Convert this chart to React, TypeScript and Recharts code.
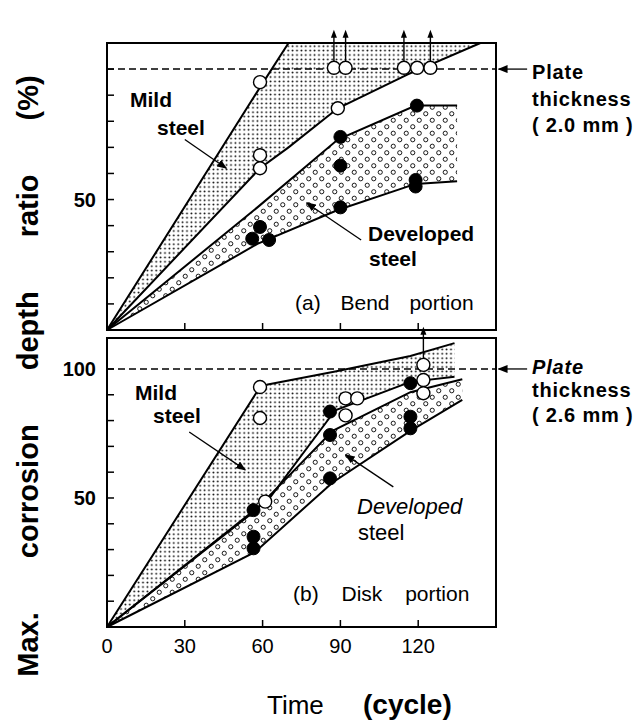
import React from "react";
import {
  ComposedChart,
  Area,
  Line,
  Scatter,
  XAxis,
  YAxis,
  ReferenceLine,
  ReferenceArea,
} from "recharts";

const FONT = "'Liberation Sans', Arial, Helvetica, sans-serif";

// axis ticks
const xTicks = [0, 30, 60, 90, 120];
const yTicks = [0, 10, 20, 30, 40, 50, 60, 70, 80, 90, 100];

// (a) Bend portion - bands (x, lower edge, upper edge)
const bendMildX = [0, 59, 70, 89, 116, 144];
const bendMildLow = [0, 62, 70, 85, 98, 110];
const bendMildHigh = [0, 93, 110, 110, 110, 110];

const bendDevX = [0, 58, 89, 119, 135];
const bendDevLow = [0, 33, 46, 56, 57];
const bendDevHigh = [0, 47, 73, 86, 86];

// (a) measured points
const bendOpenX = [59, 59, 59, 89, 119.6];
const bendOpenY = [95, 67, 62, 85, 100.5];
const bendArrowX = [87.5, 92, 114.5, 124.7];
const bendArrowY = [100.5, 100.5, 100.5, 100.5];
const bendFilledX = [90, 90, 119.5, 90, 119, 119, 56, 59, 62.5];
const bendFilledY = [74, 63, 86, 47, 57.5, 55, 35, 39.5, 34.5];

// (b) Disk portion - bands
const diskMildX = [0, 59, 62, 88, 117, 134];
const diskMildLow = [0, 47, 49, 84, 95, 97];
const diskMildHigh = [0, 93, 94, 99, 105, 110];

const diskDevX = [0, 57, 87, 117, 137];
const diskDevLow = [0, 29, 56, 76, 88];
const diskDevHigh = [0, 45, 76, 91, 96];

// (b) measured points
const diskOpenX = [59, 59, 61, 92, 96.5, 92, 122, 122];
const diskOpenY = [93, 81, 48.6, 88.6, 88.6, 82, 95.7, 90.6];
const diskArrowX = [122];
const diskArrowY = [101.6];
const diskFilledX = [56.5, 56.5, 56.5, 86, 86, 86, 117, 117, 117];
const diskFilledY = [45.3, 35, 30.5, 83.5, 74.4, 57.6, 94.5, 81.5, 77];

const band = (xs: number[], lo: number[], hi: number[]) =>
  xs.map((x, i) => ({ x, r: [lo[i], hi[i]], lo: lo[i], hi: hi[i] }));
const pts = (xs: number[], ys: number[]) => xs.map((x, i) => ({ x, y: ys[i] }));

const openDot = (p: any) => (
  <circle cx={p.cx} cy={p.cy} r={6.5} fill="#fff" stroke="#000" strokeWidth={1.4} />
);
const filledDot = (p: any) => (
  <circle cx={p.cx} cy={p.cy} r={6.5} fill="#000" stroke="#000" strokeWidth={1} />
);
const arrowDot = (p: any) => (
  <g>
    <line x1={p.cx} y1={p.cy - 6} x2={p.cx} y2={p.cy - 34} stroke="#000" strokeWidth={1.4} />
    <path d={`M${p.cx - 3},${p.cy - 30} L${p.cx},${p.cy - 38} L${p.cx + 3},${p.cy - 30} Z`} fill="#000" />
    <circle cx={p.cx} cy={p.cy} r={6.5} fill="#fff" stroke="#000" strokeWidth={1.4} />
  </g>
);

const makeYTick = (labels: number[]) => (props: any) => {
  const { x, y, payload } = props;
  const v = payload.value;
  return (
    <g>
      {v > 0 && <line x1={x + 6} x2={x + 13} y1={y} y2={y} stroke="#000" strokeWidth={1.5} />}
      {labels.includes(v) && (
        <text x={x - 5} y={y} textAnchor="end" dominantBaseline="central" fontFamily={FONT} fontWeight="bold" fontSize={20} fill="#000">
          {v}
        </text>
      )}
    </g>
  );
};

const makeXTick = (showLabels: boolean) => (props: any) => {
  const { x, y, payload } = props;
  const v = payload.value;
  return (
    <g>
      {v > 0 && <line x1={x} x2={x} y1={y - 10} y2={y - 17} stroke="#000" strokeWidth={1.5} />}
      {showLabels && (
        <text x={x} y={y + 9} textAnchor="middle" dominantBaseline="central" fontFamily={FONT} fontSize={20} fill="#000">
          {v}
        </text>
      )}
    </g>
  );
};

function Panel(props: {
  top: number;
  height: number;
  marginTop: number;
  yMax: number;
  yLabels: number[];
  xLabels: boolean;
  mildX: number[]; mildLow: number[]; mildHigh: number[];
  devX: number[]; devLow: number[]; devHigh: number[];
  openX: number[]; openY: number[];
  arrowX: number[]; arrowY: number[];
  filledX: number[]; filledY: number[];
  mildArrow: number[][];
  devArrow: number[][];
}) {
  const mild = band(props.mildX, props.mildLow, props.mildHigh);
  const dev = band(props.devX, props.devLow, props.devHigh);
  return (
    <div style={{ position: "absolute", left: 0, top: props.top }}>
      <ComposedChart
        width={642}
        height={props.height}
        margin={{ top: props.marginTop, right: 146, bottom: 0, left: 67 }}
      >
        <XAxis
          type="number"
          dataKey="x"
          domain={[0, 150]}
          ticks={xTicks}
          interval={0}
          axisLine={false}
          tickLine={false}
          tickSize={0}
          tickMargin={10}
          height={props.xLabels ? 40 : 10}
          tick={makeXTick(props.xLabels)}
        />
        <YAxis
          type="number"
          domain={[0, props.yMax]}
          ticks={yTicks}
          interval={0}
          axisLine={false}
          tickLine={false}
          tickSize={0}
          tickMargin={6}
          width={40}
          tick={makeYTick(props.yLabels)}
        />
        <Area data={mild} dataKey="r" type="linear" stroke="none" fill="url(#stip)" fillOpacity={1} isAnimationActive={false} />
        <Area data={dev} dataKey="r" type="linear" stroke="none" fill="url(#ring)" fillOpacity={1} isAnimationActive={false} />
        <Line data={mild} dataKey="hi" type="linear" stroke="#000" strokeWidth={2} dot={false} isAnimationActive={false} />
        <Line data={mild} dataKey="lo" type="linear" stroke="#000" strokeWidth={2} dot={false} isAnimationActive={false} />
        <Line data={dev} dataKey="hi" type="linear" stroke="#000" strokeWidth={2} dot={false} isAnimationActive={false} />
        <Line data={dev} dataKey="lo" type="linear" stroke="#000" strokeWidth={2} dot={false} isAnimationActive={false} />
        <ReferenceLine y={100} stroke="#000" strokeWidth={1.5} strokeDasharray="7 4" />
        <ReferenceLine
          segment={[{ x: props.mildArrow[0][0], y: props.mildArrow[0][1] }, { x: props.mildArrow[1][0], y: props.mildArrow[1][1] }]}
          stroke="#000" strokeWidth={1.3} markerEnd="url(#ah)" ifOverflow="visible"
        />
        <ReferenceLine
          segment={[{ x: props.devArrow[0][0], y: props.devArrow[0][1] }, { x: props.devArrow[1][0], y: props.devArrow[1][1] }]}
          stroke="#000" strokeWidth={1.3} markerEnd="url(#ah)" ifOverflow="visible"
        />
        <ReferenceLine
          segment={[{ x: 162, y: 100 }, { x: 151, y: 100 }]}
          stroke="#000" strokeWidth={1.3} markerEnd="url(#ah)" ifOverflow="visible"
        />
        <ReferenceArea x1={0} x2={150} y1={0} y2={props.yMax} fill="none" stroke="#000" strokeWidth={2} ifOverflow="visible" />
        <Scatter data={pts(props.arrowX, props.arrowY)} dataKey="y" shape={arrowDot} isAnimationActive={false} />
        <Scatter data={pts(props.openX, props.openY)} dataKey="y" shape={openDot} isAnimationActive={false} />
        <Scatter data={pts(props.filledX, props.filledY)} dataKey="y" shape={filledDot} isAnimationActive={false} />
      </ComposedChart>
    </div>
  );
}

const txt = (left: number, top: number, s: React.CSSProperties = {}): React.CSSProperties => ({
  position: "absolute",
  left,
  top,
  transform: "translateY(-50%)",
  lineHeight: 1,
  whiteSpace: "pre",
  fontFamily: FONT,
  color: "#000",
  ...s,
});

const note = { fontSize: 20, fontWeight: "bold" as const, letterSpacing: 0.8 };

export default function App() {
  return (
    <div style={{ position: "absolute", left: 0, top: 0, width: 642, height: 725, background: "#fff", overflow: "hidden" }}>
      <style>{`.recharts-surface{overflow:visible}`}</style>
      <svg width={0} height={0} style={{ position: "absolute" }}>
        <defs>
          <pattern id="stip" patternUnits="userSpaceOnUse" width={4.4} height={4.4}>
            <circle cx={2.2} cy={2.2} r={0.95} fill="#000" />
          </pattern>
          <pattern id="ring" patternUnits="userSpaceOnUse" width={13} height={13}>
            <circle cx={3.25} cy={3.25} r={2.1} fill="none" stroke="#000" strokeWidth={0.9} />
            <circle cx={9.75} cy={9.75} r={2.1} fill="none" stroke="#000" strokeWidth={0.9} />
          </pattern>
          <marker id="ah" markerWidth={10} markerHeight={8} refX={9} refY={4} orient="auto" markerUnits="userSpaceOnUse">
            <path d="M0,0 L10,4 L0,8 Z" fill="#000" />
          </marker>
        </defs>
      </svg>

      <Panel
        top={0} height={340} marginTop={43} yMax={110} yLabels={[50]} xLabels={false}
        mildX={bendMildX} mildLow={bendMildLow} mildHigh={bendMildHigh}
        devX={bendDevX} devLow={bendDevLow} devHigh={bendDevHigh}
        openX={bendOpenX} openY={bendOpenY}
        arrowX={bendArrowX} arrowY={bendArrowY}
        filledX={bendFilledX} filledY={bendFilledY}
        mildArrow={[[30, 73], [46, 62]]}
        devArrow={[[98, 34.5], [77, 48.7]]}
      />
      <Panel
        top={290} height={377} marginTop={48} yMax={112} yLabels={[50, 100]} xLabels={true}
        mildX={diskMildX} mildLow={diskMildLow} mildHigh={diskMildHigh}
        devX={diskDevX} devLow={diskDevLow} devHigh={diskDevHigh}
        openX={diskOpenX} openY={diskOpenY}
        arrowX={diskArrowX} arrowY={diskArrowY}
        filledX={diskFilledX} filledY={diskFilledY}
        mildArrow={[[31.7, 75.6], [53.3, 60.9]]}
        devArrow={[[110.4, 54.3], [92, 66.7]]}
      />

      {/* panel (a) notes */}
      <div style={txt(130, 99, { fontSize: 21, fontWeight: "bold" })}>Mild</div>
      <div style={txt(157, 127, { fontSize: 21, fontWeight: "bold" })}>steel</div>
      <div style={txt(368, 233, { fontSize: 21, fontWeight: "bold" })}>Developed</div>
      <div style={txt(369, 258, { fontSize: 21, fontWeight: "bold" })}>steel</div>
      <div style={txt(295, 302, { fontSize: 21, wordSpacing: 14 })}>(a) Bend portion</div>
      <div style={txt(532, 72, note)}>Plate</div>
      <div style={txt(532, 99, note)}>thickness</div>
      <div style={txt(532, 125, note)}>( 2.0 mm )</div>

      {/* panel (b) notes */}
      <div style={txt(135, 392, { fontSize: 21, fontWeight: "bold" })}>Mild</div>
      <div style={txt(153, 415, { fontSize: 21, fontWeight: "bold" })}>steel</div>
      <div style={txt(357, 507, { fontSize: 22, fontStyle: "italic" })}>Developed</div>
      <div style={txt(358, 533, { fontSize: 22 })}>steel</div>
      <div style={txt(293, 593, { fontSize: 21, wordSpacing: 17 })}>(b) Disk portion</div>
      <div style={txt(532, 367, { ...note, fontStyle: "italic" })}>Plate</div>
      <div style={txt(532, 390, note)}>thickness</div>
      <div style={txt(532, 415, note)}>( 2.6 mm )</div>

      {/* axis titles */}
      <div style={txt(267, 705, { fontSize: 26, wordSpacing: 32 })}>
        Time <span style={{ fontWeight: "bold", fontSize: 28 }}>(cycle)</span>
      </div>
      <div
        style={{
          position: "absolute",
          left: 28,
          top: 376,
          transform: "translate(-50%, -50%) rotate(-90deg)",
          whiteSpace: "pre",
          fontFamily: FONT,
          fontWeight: "bold",
          fontSize: 29,
          wordSpacing: 46,
          lineHeight: 1,
        }}
      >
        Max. corrosion depth ratio (%)
      </div>
    </div>
  );
}
